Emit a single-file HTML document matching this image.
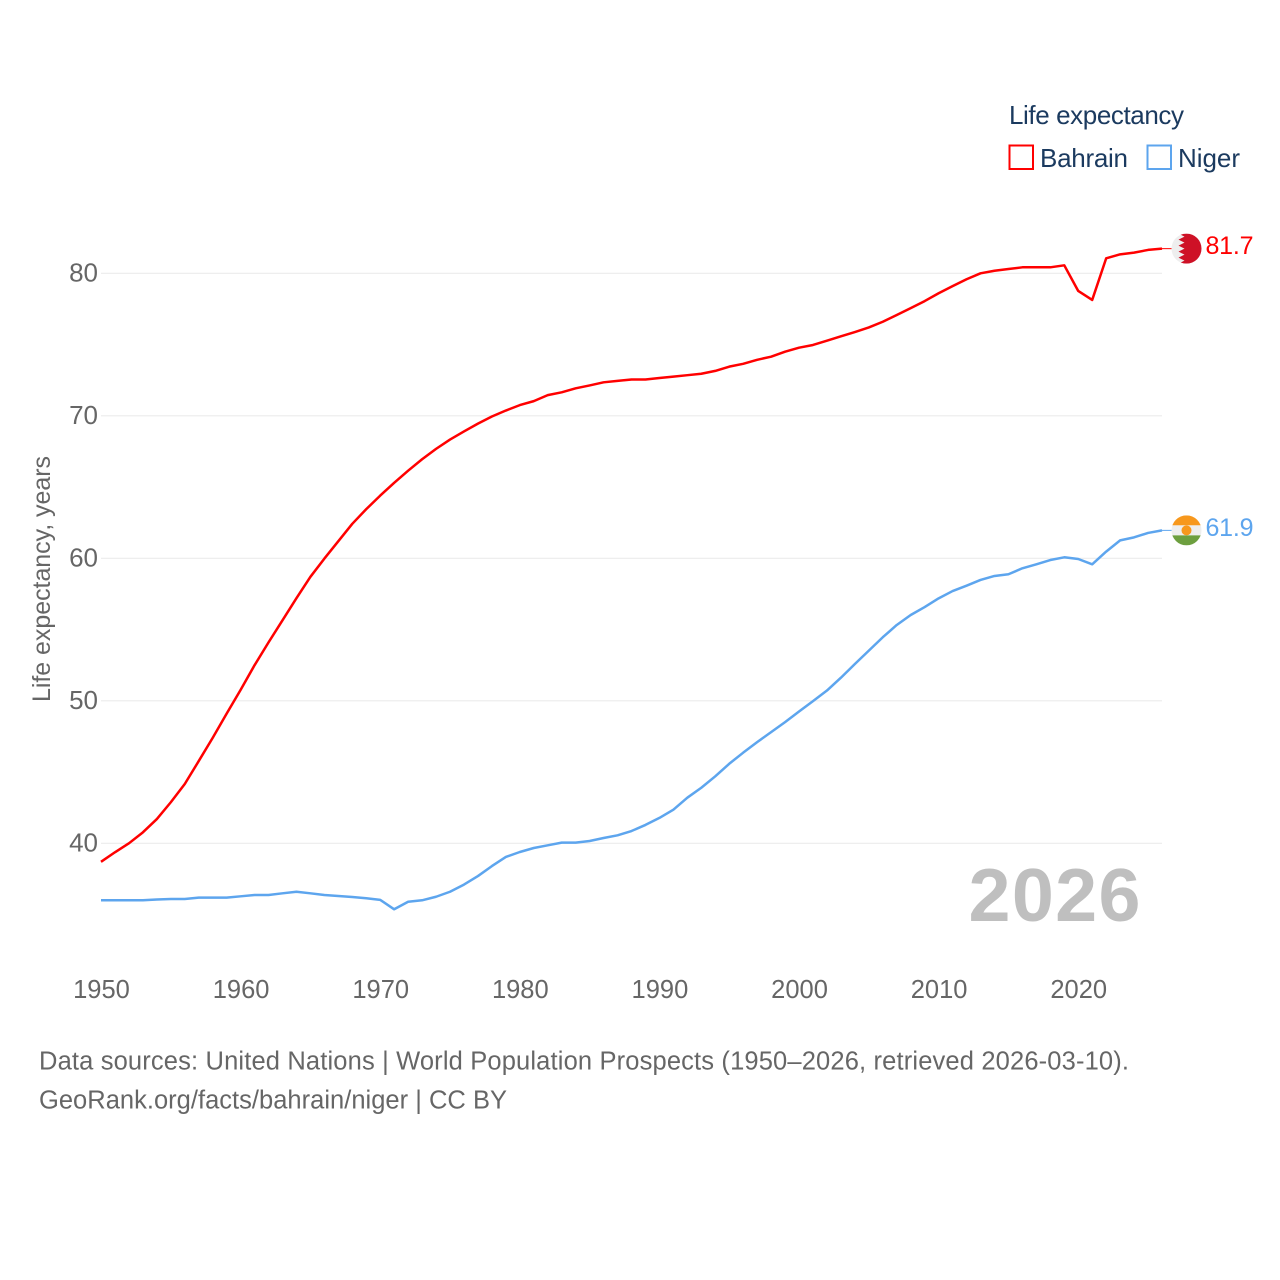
<!DOCTYPE html>
<html lang="en">
<head>
<meta charset="utf-8">
<title>Life expectancy: Bahrain and Niger</title>
<style>
html,body{margin:0;padding:0;background:#fff;width:1280px;height:1280px;overflow:hidden}
svg{display:block;font-family:"Liberation Sans","DejaVu Sans",sans-serif}
</style>
</head>
<body>
<svg id="chart" xmlns="http://www.w3.org/2000/svg" width="1280" height="1280" viewBox="0 0 1280 1280">
  <defs>
    <clipPath id="flag-clip"><circle cx="0" cy="0" r="15"></circle></clipPath>
  </defs>
  <rect x="0" y="0" width="1280" height="1280" fill="#fff"></rect>
  <g id="grid"></g>
  <g id="yticks"></g>
  <g id="xticks"></g>
  <text transform="translate(50,579) rotate(-90)" text-anchor="middle" font-size="25" fill="#666" textLength="246" lengthAdjust="spacing">Life expectancy, years</text>
  <text x="968.5" y="921" font-size="75.5" font-weight="bold" fill="#bfbfbf" textLength="172" lengthAdjust="spacing">2026</text>
  <g id="series"></g>

  <g id="flag-bahrain">
    <g clip-path="url(#flag-clip)">
      <rect x="-15" y="-15" width="30" height="30" fill="#eeeeee"></rect>
      <polygon fill="#ce1126" points="15,-15 -8,-15 -2,-12 -8,-9 -2,-6 -8,-3 -2,0 -8,3 -2,6 -8,9 -2,12 -8,15 15,15"></polygon>
    </g>
  </g>
  <g id="flag-niger">
    <g clip-path="url(#flag-clip)">
      <rect x="-15" y="-15" width="30" height="10" fill="#f7981d"></rect>
      <rect x="-15" y="-5" width="30" height="10" fill="#eeeeee"></rect>
      <rect x="-15" y="5" width="30" height="10" fill="#6d9f3f"></rect>
      <circle cx="0" cy="0" r="5" fill="#f7981d"></circle>
    </g>
  </g>
  <text id="value-bahrain" x="1205.5" font-size="25" fill="#ff0000" textLength="48" lengthAdjust="spacing"></text>
  <text id="value-niger" x="1205.5" font-size="25" fill="#5da5ee" textLength="48" lengthAdjust="spacing"></text>

  <g>
    <text x="1009" y="124" font-size="26" fill="#1b3a5f" textLength="175" lengthAdjust="spacing">Life expectancy</text>
    <g>
      <rect x="1009.5" y="145.5" width="23.5" height="23.5" fill="#fff" stroke="#ff0000" stroke-width="2"></rect>
      <text x="1040" y="167" font-size="26" fill="#1b3a5f" textLength="88" lengthAdjust="spacing">Bahrain</text>
    </g>
    <g>
      <rect x="1147.5" y="145.5" width="23.5" height="23.5" fill="#fff" stroke="#5da5ee" stroke-width="2"></rect>
      <text x="1178" y="167" font-size="26" fill="#1b3a5f" textLength="62" lengthAdjust="spacing">Niger</text>
    </g>
  </g>

  <text x="39" y="1069.5" font-size="25.5" fill="#666" textLength="1090" lengthAdjust="spacing">Data sources: United Nations | World Population Prospects (1950–2026, retrieved 2026-03-10).</text>
  <text x="39" y="1108.5" font-size="25.5" fill="#666" textLength="468" lengthAdjust="spacing">GeoRank.org/facts/bahrain/niger | CC BY</text>
</svg>
<script>
const startYear = 1950;
const endYear = 2026;
const yTickValues = [40, 50, 60, 70, 80];
const xTickValues = [1950, 1960, 1970, 1980, 1990, 2000, 2010, 2020];
const bahrainValues = [
  38.7, 39.37, 40.0, 40.77, 41.7, 42.88, 44.16, 45.77, 47.4, 49.1,
  50.77, 52.5, 54.1, 55.65, 57.2, 58.7, 59.98, 61.2, 62.42, 63.45,
  64.4, 65.3, 66.15, 66.95, 67.68, 68.33, 68.9, 69.45, 69.95, 70.37,
  70.75, 71.03, 71.45, 71.65, 71.93, 72.13, 72.35, 72.45, 72.55, 72.55,
  72.65, 72.75, 72.85, 72.95, 73.15, 73.45, 73.65, 73.93, 74.15, 74.5,
  74.78, 74.97, 75.27, 75.58, 75.88, 76.2, 76.6, 77.07, 77.56, 78.05,
  78.6, 79.1, 79.58, 80.0, 80.18, 80.3, 80.42, 80.42, 80.42, 80.56,
  78.76, 78.13, 81.05, 81.33, 81.45, 81.64, 81.73
];
const nigerValues = [
  36.0, 36.0, 36.0, 36.0, 36.06, 36.09, 36.09, 36.19, 36.19, 36.19,
  36.28, 36.37, 36.37, 36.49, 36.6, 36.49, 36.37, 36.3, 36.23, 36.14,
  36.03, 35.37, 35.9, 36.0, 36.25, 36.6, 37.1, 37.7, 38.4, 39.04,
  39.39, 39.67, 39.86, 40.05, 40.05, 40.16, 40.37, 40.56, 40.86, 41.29,
  41.78, 42.36, 43.2, 43.9, 44.7, 45.58, 46.36, 47.1, 47.8, 48.5,
  49.25, 49.98, 50.72, 51.62, 52.58, 53.52, 54.46, 55.32, 56.02, 56.58,
  57.19, 57.7, 58.08, 58.48, 58.76, 58.88, 59.3, 59.58, 59.88, 60.07,
  59.95, 59.58, 60.47, 61.26, 61.47, 61.78, 61.96
];
const bahrainLabel = "81.7";
const nigerLabel = "61.9";

const NS = "http://www.w3.org/2000/svg";
const plotLeft = 101;
const plotRight = 1162;
function xScale(year) {
  return plotLeft + (year - startYear) * (plotRight - plotLeft) / (endYear - startYear);
}
function yScale(value) {
  return 843.3 - (value - 40) * 14.25;
}
function makeLinePath(values) {
  return values.map(function (v, i) {
    return (i === 0 ? "M" : "L") + xScale(startYear + i).toFixed(2) + " " + yScale(v).toFixed(2);
  }).join(" ");
}

const gridGroup = document.getElementById("grid");
const yTickGroup = document.getElementById("yticks");
yTickValues.forEach(function (t) {
  const line = document.createElementNS(NS, "line");
  
  
  line.setAttribute("x1", plotLeft);
  line.setAttribute("x2", plotRight);
  line.setAttribute("y1", yScale(t));
  line.setAttribute("y2", yScale(t));
  line.setAttribute("stroke", "#ebebeb");
  line.setAttribute("stroke-width", "1.2");
  gridGroup.appendChild(line);

  const label = document.createElementNS(NS, "text");
  
  
  label.setAttribute("x", 98);
  label.setAttribute("y", yScale(t) + 8);
  label.setAttribute("text-anchor", "end");
  label.setAttribute("font-size", "26");
  label.setAttribute("fill", "#666");
  label.textContent = t;
  yTickGroup.appendChild(label);
});

const xTickGroup = document.getElementById("xticks");
xTickValues.forEach(function (t) {
  const label = document.createElementNS(NS, "text");
  
  
  label.setAttribute("x", xScale(t) + 0.5);
  label.setAttribute("y", 998);
  label.setAttribute("text-anchor", "middle");
  label.setAttribute("font-size", "25.5");
  label.setAttribute("fill", "#666");
  label.textContent = t;
  xTickGroup.appendChild(label);
});

const seriesGroup = document.getElementById("series");

const bahrainLine = document.createElementNS(NS, "path");


bahrainLine.setAttribute("d", makeLinePath(bahrainValues));
bahrainLine.setAttribute("fill", "none");
bahrainLine.setAttribute("stroke", "#ff0000");
bahrainLine.setAttribute("stroke-width", "2.5");
bahrainLine.setAttribute("stroke-linejoin", "round");
seriesGroup.appendChild(bahrainLine);

const nigerLine = document.createElementNS(NS, "path");


nigerLine.setAttribute("d", makeLinePath(nigerValues));
nigerLine.setAttribute("fill", "none");
nigerLine.setAttribute("stroke", "#5da5ee");
nigerLine.setAttribute("stroke-width", "2.5");
nigerLine.setAttribute("stroke-linejoin", "round");
seriesGroup.appendChild(nigerLine);

const bahrainEnd = yScale(bahrainValues[bahrainValues.length - 1]);
const nigerEnd = yScale(nigerValues[nigerValues.length - 1]);

const bahrainLeader = document.createElementNS(NS, "line");


bahrainLeader.setAttribute("x1", plotRight);
bahrainLeader.setAttribute("x2", 1172);
bahrainLeader.setAttribute("y1", bahrainEnd);
bahrainLeader.setAttribute("y2", bahrainEnd);
bahrainLeader.setAttribute("stroke", "#ff0000");
bahrainLeader.setAttribute("stroke-width", "1");
seriesGroup.appendChild(bahrainLeader);

const nigerLeader = document.createElementNS(NS, "line");


nigerLeader.setAttribute("x1", plotRight);
nigerLeader.setAttribute("x2", 1172);
nigerLeader.setAttribute("y1", nigerEnd);
nigerLeader.setAttribute("y2", nigerEnd);
nigerLeader.setAttribute("stroke", "#5da5ee");
nigerLeader.setAttribute("stroke-width", "1");
seriesGroup.appendChild(nigerLeader);

document.getElementById("flag-bahrain").setAttribute("transform", "translate(1186.5," + bahrainEnd + ")");
document.getElementById("flag-niger").setAttribute("transform", "translate(1186.5," + nigerEnd + ")");

const bahrainValueText = document.getElementById("value-bahrain");
bahrainValueText.setAttribute("y", bahrainEnd + 5.5);
bahrainValueText.textContent = bahrainLabel;

const nigerValueText = document.getElementById("value-niger");
nigerValueText.setAttribute("y", nigerEnd + 5.5);
nigerValueText.textContent = nigerLabel;
</script>
</body>
</html>
